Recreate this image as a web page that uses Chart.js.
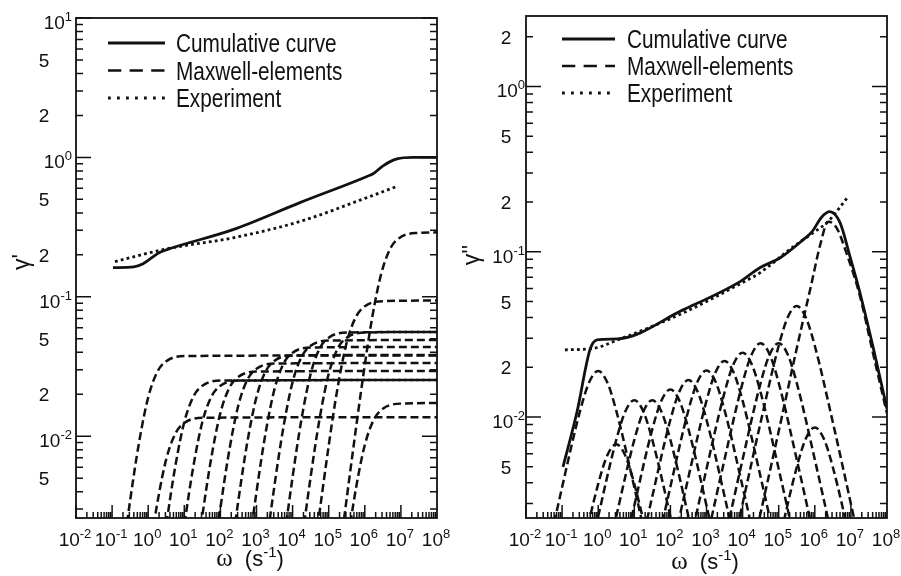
<!DOCTYPE html>
<html>
<head>
<meta charset="utf-8">
<script src="https://cdn.jsdelivr.net/npm/chart.js@4.4.1/dist/chart.umd.min.js"></script>
<style>
  body { margin: 0; background: #fff; }
  canvas { position: absolute; top: 0; }
</style>
</head>
<body>
<canvas id="grafLeft" width="450" height="576" style="left:0"></canvas>
<canvas id="grafRight" width="451" height="576" style="left:450px"></canvas>
<script>
// ω (s-1) and γ' of each Maxwell element, left panel
const storageOmega = [
  [0.0631, 0.316, 0.562, 1, 1.78, 3.16, 10, 1e8],
  [0.2, 1, 1.78, 3.16, 5.62, 10, 31.6, 1e8],
  [0.631, 3.16, 5.62, 10, 17.8, 31.6, 100, 1e8],
  [2, 10, 17.8, 31.6, 56.2, 100, 316, 1e8],
  [6.31, 31.6, 56.2, 100, 178, 316, 1e3, 1e8],
  [20, 100, 178, 316, 562, 1e3, 3.16e3, 1e8],
  [63.1, 316, 562, 1e3, 1.78e3, 3.16e3, 1e4, 1e8],
  [200, 1e3, 1.78e3, 3.16e3, 5.62e3, 1e4, 3.16e4, 1e8],
  [631, 3.16e3, 5.62e3, 1e4, 1.78e4, 3.16e4, 1e5, 1e8],
  [2e3, 1e4, 1.78e4, 3.16e4, 5.62e4, 1e5, 3.16e5, 1e8],
  [6.31e3, 3.16e4, 5.62e4, 1e5, 1.78e5, 3.16e5, 1e6, 1e8],
  [2e4, 1e5, 1.78e5, 3.16e5, 5.62e5, 1e6, 3.16e6, 1e8],
  [6.31e4, 3.16e5, 5.62e5, 1e6, 1.78e6, 3.16e6, 1e7, 1e8],
  [1.78e5, 8.91e5, 1.58e6, 2.82e6, 5.01e6, 8.91e6, 2.82e7, 1e8]
];
const storageGamma = [
  [0.000152, 0.00346, 0.00912, 0.019, 0.0289, 0.0345, 0.0376, 0.038],
  [0.0000548, 0.00125, 0.00329, 0.00685, 0.0104, 0.01245, 0.01356, 0.0137],
  [0.000101, 0.0023, 0.00607, 0.01265, 0.0192, 0.023, 0.02505, 0.0253],
  [0.000101, 0.0023, 0.00607, 0.01265, 0.0192, 0.023, 0.02505, 0.0253],
  [0.000118, 0.00268, 0.00706, 0.0147, 0.0223, 0.0267, 0.0291, 0.0294],
  [0.000134, 0.00305, 0.00804, 0.01675, 0.0255, 0.0305, 0.0332, 0.0335],
  [0.000153, 0.00349, 0.00919, 0.01915, 0.0291, 0.0348, 0.0379, 0.0383],
  [0.000175, 0.00398, 0.0105, 0.02185, 0.0332, 0.0397, 0.0433, 0.0437],
  [0.000196, 0.00446, 0.01176, 0.0245, 0.0372, 0.0445, 0.0485, 0.049],
  [0.000224, 0.0051, 0.01344, 0.028, 0.0426, 0.0509, 0.0554, 0.056],
  [0.000224, 0.0051, 0.01344, 0.028, 0.0426, 0.0509, 0.0554, 0.056],
  [0.000376, 0.00855, 0.02256, 0.047, 0.0714, 0.0854, 0.0931, 0.094],
  [0.0000692, 0.00157, 0.00415, 0.00865, 0.01315, 0.01573, 0.01713, 0.0173],
  [0.00116, 0.0264, 0.0696, 0.145, 0.2204, 0.2636, 0.2871, 0.29]
];
const cumStorageOmega = [0.106, 0.4, 0.7, 2, 3.3, 224, 1.6e4, 1.15e6, 1.7e6, 3.2e6, 7.8e6, 2.2e7, 1e8];
const cumStorageGamma = [0.162, 0.164, 0.172, 0.207, 0.218, 0.303, 0.474, 0.73, 0.764, 0.87, 0.975, 1.0, 1.0];
const expStorageOmega = [0.12, 3.3, 224, 1.6e4, 1.15e6, 7.8e6];
const expStorageGamma = [0.179, 0.221, 0.265, 0.347, 0.515, 0.62];

// ω (s-1) and γ'' of each Maxwell element, right panel
const lossOmega = [
  [0.01, 0.1, 0.316, 0.562, 1, 1.78, 3.16, 10, 100],
  [0.0316, 0.316, 1, 1.78, 3.16, 5.62, 10, 31.6, 316],
  [0.1, 1, 3.16, 5.62, 10, 17.8, 31.6, 100, 1e3],
  [0.316, 3.16, 10, 17.8, 31.6, 56.2, 100, 316, 3.16e3],
  [1, 10, 31.6, 56.2, 100, 178, 316, 1e3, 1e4],
  [3.16, 31.6, 100, 178, 316, 562, 1e3, 3.16e3, 3.16e4],
  [10, 100, 316, 562, 1e3, 1.78e3, 3.16e3, 1e4, 1e5],
  [31.6, 316, 1e3, 1.78e3, 3.16e3, 5.62e3, 1e4, 3.16e4, 3.16e5],
  [100, 1e3, 3.16e3, 5.62e3, 1e4, 1.78e4, 3.16e4, 1e5, 1e6],
  [316, 3.16e3, 1e4, 1.78e4, 3.16e4, 5.62e4, 1e5, 3.16e5, 3.16e6],
  [1e3, 1e4, 3.16e4, 5.62e4, 1e5, 1.78e5, 3.16e5, 1e6, 1e7],
  [3.16e3, 3.16e4, 1e5, 1.78e5, 3.16e5, 5.62e5, 1e6, 3.16e6, 3.16e7],
  [1e4, 1e5, 3.16e5, 5.62e5, 1e6, 1.78e6, 3.16e6, 1e7, 1e8],
  [2.51e4, 1e5, 3.16e5, 7.94e5, 1.41e6, 2.34e6, 3.98e6, 7.94e6, 1.78e7, 3.98e7, 1e8]
];
const lossGamma = [
  [0.00038, 0.00376, 0.01093, 0.01623, 0.019, 0.01623, 0.01093, 0.00376, 0.00038],
  [0.000137, 0.00136, 0.00394, 0.00585, 0.00685, 0.00585, 0.00394, 0.00136, 0.000137],
  [0.000253, 0.0025, 0.00727, 0.0108, 0.01265, 0.0108, 0.00727, 0.0025, 0.000253],
  [0.000253, 0.0025, 0.00727, 0.0108, 0.01265, 0.0108, 0.00727, 0.0025, 0.000253],
  [0.000294, 0.00291, 0.00845, 0.01255, 0.0147, 0.01255, 0.00845, 0.00291, 0.000294],
  [0.000335, 0.00332, 0.00963, 0.0143, 0.01675, 0.0143, 0.00963, 0.00332, 0.000335],
  [0.000383, 0.00379, 0.01101, 0.01635, 0.01915, 0.01635, 0.01101, 0.00379, 0.000383],
  [0.000437, 0.00433, 0.01256, 0.01866, 0.02185, 0.01866, 0.01256, 0.00433, 0.000437],
  [0.00049, 0.00485, 0.01409, 0.02092, 0.0245, 0.02092, 0.01409, 0.00485, 0.00049],
  [0.00056, 0.00554, 0.0161, 0.02391, 0.028, 0.02391, 0.0161, 0.00554, 0.00056],
  [0.00056, 0.00554, 0.0161, 0.02391, 0.028, 0.02391, 0.0161, 0.00554, 0.00056],
  [0.00094, 0.0093, 0.027, 0.0401, 0.047, 0.0401, 0.027, 0.0093, 0.00094],
  [0.000173, 0.00171, 0.00497, 0.00739, 0.00865, 0.00739, 0.00497, 0.00171, 0.000173],
  [0.0021, 0.0082, 0.026, 0.063, 0.11, 0.152, 0.14, 0.095, 0.054, 0.025, 0.0105]
];
const cumLossOmega = [0.106, 0.26, 0.59, 0.93, 3.5, 224, 8500, 3e4, 1.1e5, 4.7e5, 8.3e5, 1.58e6, 2.6e6, 5e6, 9.5e6, 1.78e7, 4.1e7, 1e8];
const cumLossGamma = [0.005, 0.0108, 0.0255, 0.0293, 0.0297, 0.0445, 0.066, 0.08, 0.092, 0.118, 0.132, 0.163, 0.175, 0.15, 0.093, 0.0565, 0.0266, 0.0112];
const expLossOmega = [0.12, 0.72, 3.5, 224, 8500, 3e4, 2.5e5, 8.9e5, 2.3e6, 8.3e6];
const expLossGamma = [0.0255, 0.026, 0.0293, 0.0426, 0.064, 0.0746, 0.107, 0.13, 0.152, 0.215];

// axis labels
const xDecades = ["-2", "-1", "0", "1", "2", "3", "4", "5", "6", "7", "8"];
const leftYLabels = [[10, "10", "1"], [5, "5"], [2, "2"], [1, "10", "0"], [0.5, "5"], [0.2, "2"],
  [0.1, "10", "-1"], [0.05, "5"], [0.02, "2"], [0.01, "10", "-2"], [0.005, "5"]];
const rightYLabels = [[2, "2"], [1, "10", "0"], [0.5, "5"], [0.2, "2"], [0.1, "10", "-1"],
  [0.05, "5"], [0.02, "2"], [0.01, "10", "-2"], [0.005, "5"]];
const legendNames = ["Cumulative curve", "Maxwell-elements", "Experiment"];

const ink = "#111";
const SANS = '"Liberation Sans", Arial, Helvetica, sans-serif';
const F_TICK = "19px " + SANS;
const F_SUP = "13px " + SANS;

const pts = (w, g) => w.map((v, i) => ({ x: v, y: g[i] }));

const maxwellSet = (w, g) => ({
  data: pts(w, g), borderColor: ink, borderWidth: 2.5, borderDash: [8, 4],
  fill: false, pointRadius: 0
});
const solidSet = (w, g) => ({
  data: pts(w, g), borderColor: ink, borderWidth: 2.8, fill: false, pointRadius: 0
});
const dotSet = (w, g) => ({
  data: pts(w, g), borderColor: ink, borderWidth: 2.8, borderDash: [2.8, 3.2],
  fill: false, pointRadius: 0
});

function drawPow(ctx, base, sup, x, yb, align) {
  ctx.font = F_TICK;
  const wb = ctx.measureText(base).width;
  ctx.font = F_SUP;
  const ws = ctx.measureText(sup).width;
  let x0 = x;
  if (align === "right") x0 = x - wb - ws;
  if (align === "center") x0 = x - (wb + ws) / 2;
  ctx.textAlign = "left";
  ctx.font = F_TICK;
  ctx.fillText(base, x0, yb);
  ctx.font = F_SUP;
  ctx.fillText(sup, x0 + wb, yb - 8);
}

function drawXTitle(ctx, cx, yb) {
  const parts = [
    ["ω", '25px "Liberation Serif", serif', 0],
    ["  (s", "22px " + SANS, 0],
    ["-1", "15px " + SANS, -9],
    [")", "22px " + SANS, 0]
  ];
  let total = 0;
  parts.forEach((p) => { ctx.font = p[1]; total += ctx.measureText(p[0]).width; });
  let x = cx - total / 2;
  ctx.textAlign = "left";
  parts.forEach((p) => {
    ctx.font = p[1];
    ctx.fillText(p[0], x, yb + p[2]);
    x += ctx.measureText(p[0]).width;
  });
}

const axisFrame = {
  id: "axisFrame",
  afterDatasetsDraw(chart, args, o) {
    const { ctx, chartArea: a, scales: { x, y } } = chart;
    ctx.save();
    ctx.strokeStyle = ink;
    ctx.fillStyle = ink;
    ctx.setLineDash([]);

    // inward ticks
    ctx.lineWidth = 1.5;
    ctx.beginPath();
    for (let e = -2; e <= 7; e++) {
      for (let m = 1; m <= 9; m++) {
        const px = x.getPixelForValue(m * Math.pow(10, e));
        const len = m === 1 ? 13 : 6;
        ctx.moveTo(px, a.bottom);
        ctx.lineTo(px, a.bottom - len);
      }
    }
    for (let e = -3; e <= 1; e++) {
      for (let m = 1; m <= 9; m++) {
        const v = m * Math.pow(10, e);
        if (v < y.min || v > y.max * 1.0001) continue;
        const py = y.getPixelForValue(v);
        const len = m === 1 ? 15 : 7;
        ctx.moveTo(a.left, py);
        ctx.lineTo(a.left + len, py);
        ctx.moveTo(a.right, py);
        ctx.lineTo(a.right - len, py);
      }
    }
    ctx.stroke();

    ctx.lineWidth = 1.8;
    ctx.strokeRect(a.left, a.top, a.right - a.left, a.bottom - a.top);

    // tick labels
    xDecades.forEach((d) => {
      const px = x.getPixelForValue(Math.pow(10, Number(d)));
      drawPow(ctx, "10", d, px - 1, 546, "center");
    });
    o.yLabels.forEach(([v, base, sup]) => {
      const py = y.getPixelForValue(v);
      if (sup) {
        drawPow(ctx, "10", sup, o.powRight, py + 11, "right");
      } else {
        ctx.font = F_TICK;
        ctx.textAlign = "center";
        ctx.fillText(base, o.digitX, py + 7);
      }
    });

    // axis titles
    drawXTitle(ctx, o.xTitleX, o.xTitleY);
    ctx.save();
    ctx.translate(o.yTitleX, o.yTitleY);
    ctx.rotate(-Math.PI / 2);
    ctx.font = "23px " + SANS;
    ctx.textAlign = "center";
    ctx.fillText(o.yTitle, 0, 7);
    ctx.restore();

    // legend inside the plot
    const styles = [
      { dash: [], w: 2.8 },
      { dash: [13.3, 8.3], w: 2.6 },
      { dash: [2.8, 6.2], w: 2.8 }
    ];
    legendNames.forEach((name, i) => {
      const ly = o.legendY + i * o.legendStep;
      ctx.beginPath();
      ctx.setLineDash(styles[i].dash);
      ctx.lineWidth = styles[i].w;
      ctx.moveTo(o.legendX0, ly);
      ctx.lineTo(o.legendX1, ly);
      ctx.stroke();
      ctx.setLineDash([]);
      ctx.save();
      ctx.translate(o.legendText, ly + 9.3);
      ctx.scale(0.8, 1);
      ctx.font = "26px " + SANS;
      ctx.textAlign = "left";
      ctx.fillText(name, 0, 0);
      ctx.restore();
    });
    ctx.restore();
  }
};

function panel(id, datasets, yMin, yMax, pad, frameOpts) {
  return new Chart(document.getElementById(id), {
    type: "line",
    data: { datasets: datasets },
    options: {
      responsive: false,
      animation: false,
      devicePixelRatio: 1,
      layout: { padding: pad },
      elements: { line: { cubicInterpolationMode: "monotone", capBezierPoints: false } },
      plugins: { legend: { display: false }, tooltip: { enabled: false }, axisFrame: frameOpts },
      scales: {
        x: { type: "logarithmic", min: 1e-2, max: 1e8, display: false },
        y: { type: "logarithmic", min: yMin, max: yMax, display: false }
      }
    },
    plugins: [axisFrame]
  });
}

const leftSets = storageOmega.map((w, i) => maxwellSet(w, storageGamma[i]))
  .concat([solidSet(cumStorageOmega, cumStorageGamma), dotSet(expStorageOmega, expStorageGamma)]);
const rightSets = lossOmega.map((w, i) => maxwellSet(w, lossGamma[i]))
  .concat([solidSet(cumLossOmega, cumLossGamma), dotSet(expLossOmega, expLossGamma)]);

panel("grafLeft", leftSets, 0.00259, 10, { left: 76, right: 13, top: 18, bottom: 58 }, {
  yLabels: leftYLabels, powRight: 72, digitX: 44,
  xTitleX: 250, xTitleY: 566, yTitle: "γ'", yTitleX: 22, yTitleY: 262,
  legendX0: 108, legendX1: 165, legendText: 176, legendY: 43, legendStep: 27.5
});
panel("grafRight", rightSets, 0.00245, 2.67, { left: 76, right: 14, top: 16, bottom: 58 }, {
  yLabels: rightYLabels, powRight: 75, digitX: 56,
  xTitleX: 255, xTitleY: 569, yTitle: "γ''", yTitleX: 22, yTitleY: 255,
  legendX0: 112, legendX1: 165, legendText: 177, legendY: 39, legendStep: 27
});
</script>
</body>
</html>
